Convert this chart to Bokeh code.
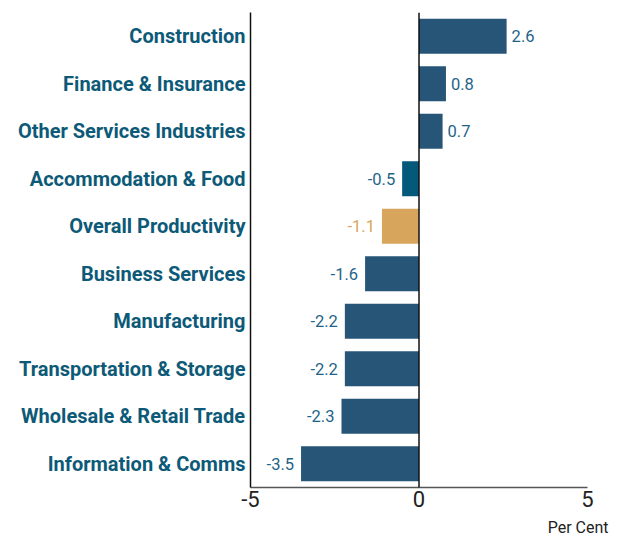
from bokeh.plotting import figure
from bokeh.models import ColumnDataSource, FactorRange, FixedTicker, Span, Title
from bokeh.core.properties import value
from bokeh.embed import file_html
from bokeh.resources import INLINE

# ---- data (top to bottom as in the chart) ----
categories = [
    "Construction",
    "Finance & Insurance",
    "Other Services Industries",
    "Accommodation & Food",
    "Overall Productivity",
    "Business Services",
    "Manufacturing",
    "Transportation & Storage",
    "Wholesale & Retail Trade",
    "Information & Comms",
]
values = [2.6, 0.8, 0.7, -0.5, -1.1, -1.6, -2.2, -2.2, -2.3, -3.5]
x_ticks = [-5, 0, 5]
x_tick_labels = ["-5", "0", "5"]
x_unit_label = "Per Cent"

# ---- styles ----
BAR = "#275577"
BAR_ACC = "#04587a"
HIGHLIGHT = "#d8a55c"
LABEL_BLUE = "#1f6488"
CAT_BLUE = "#0d5a78"
FONT = "Roboto"

def bar_color(c):
    if c == "Overall Productivity":
        return HIGHLIGHT
    if c == "Accommodation & Food":
        return BAR_ACC
    return BAR

def text_color(c):
    return HIGHLIGHT if c == "Overall Productivity" else LABEL_BLUE

src = ColumnDataSource(dict(
    cat=categories,
    val=values,
    color=[bar_color(c) for c in categories],
    tcolor=[text_color(c) for c in categories],
    txt=[f"{v:.1f}" for v in values],
    align=["left" if v >= 0 else "right" for v in values],
    xoff=[5 if v >= 0 else -7 for v in values],
))

p = figure(
    width=611, height=550,
    y_range=FactorRange(factors=categories[::-1], range_padding=0),
    x_range=(-5, 5),
    output_backend="svg", toolbar_location=None,
    min_border_left=250, min_border_right=24,
    min_border_top=12, min_border_bottom=63,
)
p.outline_line_color = None
p.xgrid.visible = False
p.ygrid.visible = False
p.background_fill_color = "white"

p.hbar(y="cat", right="val", left=0, height=0.735, color="color", line_color=None, source=src)

p.text(x="val", y="cat", text="txt", x_offset="xoff", text_align="align",
       text_baseline="middle", text_color="tcolor", text_font=value(FONT),
       text_font_size="16.5px", source=src)

p.add_layout(Span(location=0, dimension="height", line_color="#111111", line_width=1.5))

# y axis
ya = p.yaxis[0]
ya.axis_line_color = "#111111"
ya.axis_line_width = 1.5
ya.major_tick_line_color = None
ya.minor_tick_line_color = None
ya.major_tick_out = 0
ya.major_tick_in = 0
ya.minor_tick_out = 0
ya.major_label_standoff = 5
ya.major_label_text_font = FONT
ya.major_label_text_font_style = "bold"
ya.major_label_text_font_size = "20px"
ya.major_label_text_color = CAT_BLUE

# x axis
xa = p.xaxis[0]
xa.ticker = FixedTicker(ticks=x_ticks)
xa.major_label_overrides = {t: l for t, l in zip(x_ticks, x_tick_labels)}
xa.axis_line_color = "#555555"
xa.axis_line_width = 1.5
xa.major_tick_line_color = None
xa.minor_tick_line_color = None
xa.major_tick_out = 0
xa.major_tick_in = 0
xa.minor_tick_out = 0
xa.major_label_standoff = 3
xa.major_label_text_font = FONT
xa.major_label_text_font_size = "22px"
xa.major_label_text_color = "#222222"

p.add_layout(Title(text=x_unit_label, align="right", offset=-21, standoff=13,
                   text_font=FONT, text_font_size="16px", text_font_style="normal",
                   text_color="#222222"), "below")

open("out.html", "w").write(file_html(p, INLINE))
